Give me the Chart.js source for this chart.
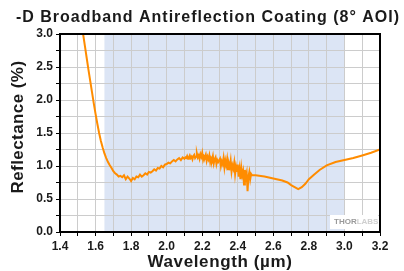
<!DOCTYPE html>
<html><head><meta charset="utf-8">
<script src="https://cdn.jsdelivr.net/npm/chart.js@4"></script>
<style>html,body{margin:0;padding:0;background:#fff;}#wrap{width:404px;height:271px;position:relative;}</style>
</head><body><div id="wrap"><canvas id="c" width="404" height="271"></canvas></div>
<script>
const chartTitle = "-D Broadband Antireflection Coating (8° AOI)";
const xTitle = "Wavelength (µm)";
const yTitle = "Reflectance (%)";
const bandRange = [1.65, 3.0];
const wavelength = [1.530,1.540,1.550,1.560,1.570,1.580,1.590,1.600,1.610,1.620,1.630,1.640,1.650,1.660,1.670,1.680,1.690,1.700,1.710,1.720,1.730,1.740,1.750,1.760,1.770,1.780,1.790,1.800,1.810,1.820,1.830,1.840,1.850,1.860,1.870,1.880,1.890,1.900,1.910,1.920,1.930,1.940,1.950,1.960,1.970,1.980,1.990,2.000,2.010,2.020,2.030,2.040,2.050,2.060,2.070,2.080,2.090,
2.100,2.105,2.110,2.115,2.120,2.125,2.130,2.135,2.140,2.145,2.150,2.155,2.160,2.165,2.170,2.175,2.180,2.185,2.190,2.195,2.200,2.205,2.210,2.215,2.220,2.225,2.230,2.235,2.240,2.245,2.250,2.255,2.260,2.265,2.270,2.275,2.280,2.285,2.290,2.300,2.305,2.310,2.315,2.320,2.325,2.330,2.335,2.340,2.345,2.350,2.355,2.360,2.365,2.370,2.375,2.380,2.385,2.390,2.395,2.400,2.405,2.410,2.415,2.420,2.425,2.430,2.435,2.440,2.445,2.450,2.455,2.460,2.465,2.470,2.475,2.480,
2.500,2.550,2.600,2.650,2.680,2.700,2.720,2.740,2.760,2.780,2.800,2.830,2.860,2.900,2.950,3.000,3.050,3.100,3.150,3.200];
const reflectance = [3.00,2.82,2.64,2.46,2.29,2.12,1.95,1.79,1.64,1.50,1.38,1.28,1.19,1.12,1.06,1.01,0.97,0.92,0.89,0.87,0.84,0.85,0.83,0.86,0.80,0.84,0.81,0.77,0.82,0.80,0.84,0.83,0.87,0.84,0.86,0.89,0.87,0.91,0.90,0.92,0.95,0.93,0.97,0.96,1.00,0.98,1.02,1.03,1.05,1.04,1.07,1.09,1.07,1.10,1.12,1.09,1.13,
1.11,1.13,1.12,1.15,1.11,1.13,1.16,1.12,1.14,1.10,1.15,1.17,1.12,1.14,1.19,1.13,1.16,1.11,1.18,1.14,1.20,1.10,1.15,1.13,1.17,1.08,1.14,1.10,1.16,1.06,1.12,1.09,1.15,1.04,1.10,1.13,1.03,1.09,1.06,1.11,1.00,1.07,1.03,1.12,0.98,1.08,1.01,1.10,0.95,1.04,0.99,1.08,0.92,1.01,0.96,1.05,0.88,0.99,0.91,1.02,0.84,0.95,0.80,0.97,0.86,0.92,0.72,0.94,0.82,0.89,0.62,0.84,0.91,0.80,0.88,0.86,
0.86,0.84,0.81,0.78,0.75,0.71,0.68,0.65,0.68,0.73,0.80,0.87,0.94,1.01,1.06,1.09,1.12,1.16,1.20,1.25];

const points = wavelength.map((w,i)=>({x:w,y:reflectance[i]}));
const FONT = '"Liberation Sans", Arial, sans-serif';

function spacedText(ctx, text, cx, cy, width){
  ctx.letterSpacing = '0px';
  const n = text.length;
  const w0 = ctx.measureText(text).width;
  const sp = (width - w0) / n;
  ctx.letterSpacing = sp + 'px';
  ctx.textAlign = 'left';
  ctx.fillText(text, cx - width/2, cy);
  ctx.letterSpacing = '0px';
}

const decor = {
  id:'decor',
  beforeDraw(chart){
    const {ctx, chartArea:a, scales:{x}} = chart;
    ctx.save();
    ctx.fillStyle = '#dce5f5';
    const x0 = x.getPixelForValue(bandRange[0]), x1 = x.getPixelForValue(bandRange[1]);
    ctx.fillRect(x0, a.top, x1-x0, a.bottom-a.top);
    ctx.restore();
  },
  afterDraw(chart){
    const {ctx, chartArea:a} = chart;
    ctx.save();
    // logo
    ctx.fillStyle = '#ffffff';
    ctx.fillRect(a.right-50, a.bottom-17, 48, 14);
    ctx.font = 'bold 8px ' + FONT;
    ctx.textBaseline = 'middle';
    ctx.textAlign = 'left';
    ctx.fillStyle = '#9a9a9a';
    ctx.fillText('THOR', a.right-46, a.bottom-10);
    const w = ctx.measureText('THOR').width;
    ctx.fillStyle = '#cfcfcf';
    ctx.fillText('LABS', a.right-46+w, a.bottom-10);
    // frame
    ctx.strokeStyle = '#000';
    ctx.lineWidth = 2;
    ctx.strokeRect(a.left, a.top, a.right-a.left, a.bottom-a.top);
    // titles
    ctx.fillStyle = '#1a1a1a';
    ctx.textBaseline = 'alphabetic';
    ctx.font = 'bold 16px ' + FONT;
    spacedText(ctx, chartTitle, 208, 22, 384);
    ctx.font = 'bold 17px ' + FONT;
    spacedText(ctx, xTitle, 220, 267, 145);
    ctx.translate(23, 127);
    ctx.rotate(-Math.PI/2);
    spacedText(ctx, yTitle, 0, 0, 133);
    ctx.restore();
  }
};

new Chart(document.getElementById('c'), {
  type:'scatter',
  data:{datasets:[{data:points, showLine:true, borderColor:'#ff8c00', backgroundColor:'#ff8c00', borderWidth:2, pointRadius:0, tension:0}]},
  options:{
    responsive:false, animation:false,
    layout:{padding:{left:0,right:24,top:34,bottom:0}},
    plugins:{legend:{display:false}, tooltip:{enabled:false}, title:{display:false}},
    scales:{
      x:{type:'linear', min:1.4, max:3.2,
        afterFit(s){s.height=39;},
        ticks:{stepSize:0.1, autoSkip:false, maxRotation:0, color:'#1a1a1a', padding:3,
          font:{family:FONT, size:12, weight:'bold'},
          callback(v){return Math.round(v*10)%2===0 ? v.toFixed(1) : '';}},
        grid:{color:'#cccccc', lineWidth:1, tickColor:'#000', tickLength:4, drawTicks:true},
        border:{color:'#000', width:2}
      },
      y:{type:'linear', min:0, max:3.0,
        afterFit(s){s.width=60;},
        ticks:{stepSize:0.25, autoSkip:false, color:'#1a1a1a', padding:3,
          font:{family:FONT, size:12, weight:'bold'},
          callback(v){return Math.round(v*100)%50===0 ? v.toFixed(1) : '';}},
        grid:{color:'#cccccc', lineWidth:1, tickColor:'#000', tickLength:4, drawTicks:true},
        border:{color:'#000', width:2}
      }
    }
  },
  plugins:[decor]
});
</script></body></html>
